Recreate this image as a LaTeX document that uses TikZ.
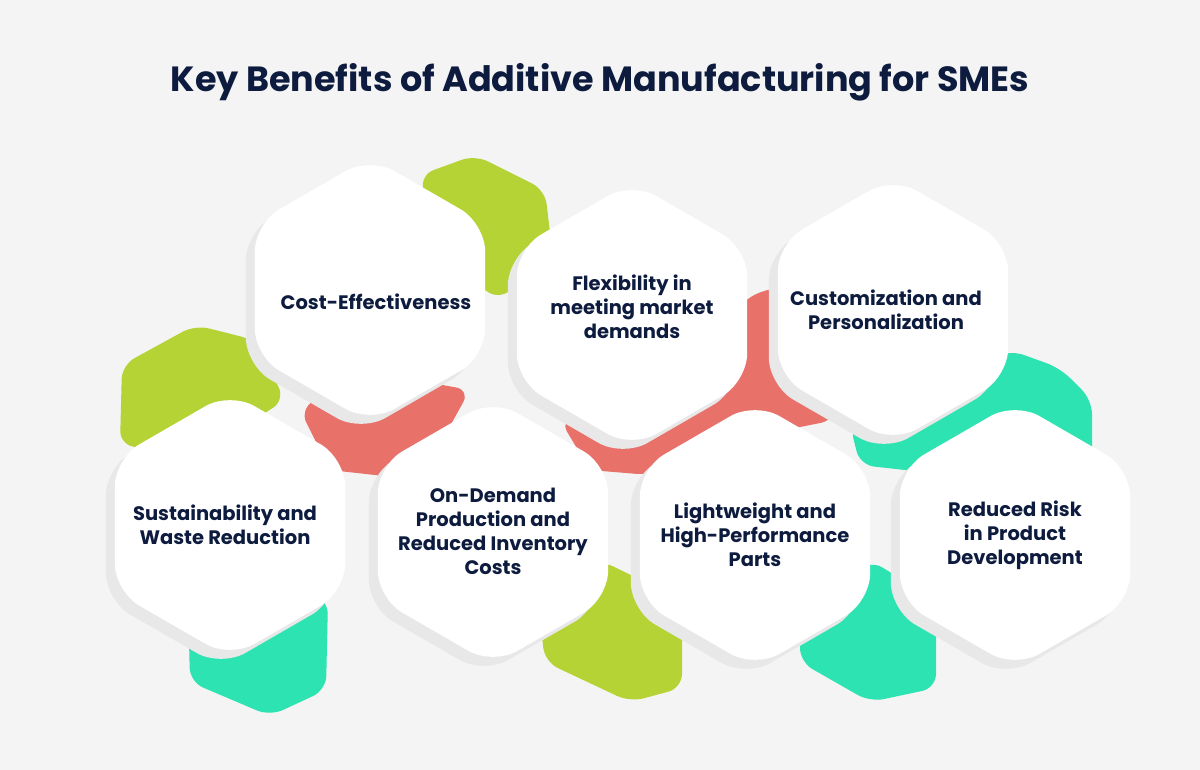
\documentclass[tikz,border=0pt]{standalone}
\usepackage{fontspec}
\setmainfont{Poppins}
\usetikzlibrary{shapes.geometric}
\definecolor{bg}{HTML}{F4F4F4}
\definecolor{navy}{HTML}{0D1B3E}
\definecolor{lime}{HTML}{B5D334}
\definecolor{coral}{HTML}{E8716A}
\definecolor{teal}{HTML}{2DE3B2}
\tikzset{
  hex/.style={regular polygon, regular polygon sides=6, shape border rotate=30, minimum size=266pt,
    rounded corners=28pt, fill=white, draw=none, inner sep=0pt},
  hexsh/.style={regular polygon, regular polygon sides=6, shape border rotate=30, minimum size=266pt,
    rounded corners=28pt, fill=black!9, draw=none, inner sep=0pt},
  lbl/.style={text=navy, font=\bfseries\fontsize{19.5}{24}\selectfont, align=center, inner sep=0pt},
  patch/.style={rounded corners=14pt, draw=none}
}
\begin{document}
\begin{tikzpicture}[x=1pt,y=-1pt]
\fill[bg] (0,0) rectangle (1200,770);
\useasboundingbox (0,0) rectangle (1200,770);
\node[text=navy, font=\bfseries\fontsize{35}{40}\selectfont] (title) at (600,82) {Key Benefits of Additive Manufacturing for SMEs};
% coloured bands
\fill[lime,patch] (420,175)--(475,155)--(545,190)--(552,250)--(500,300)--(440,260)--cycle;
\fill[lime,patch] (120,445)--(122,365)--(195,325)--(255,340)--(285,400)--(200,455)--cycle;
\fill[coral,patch] (300,410)--(360,370)--(470,390)--(420,480)--(330,470)--cycle;
\fill[coral,patch] (560,420)--(640,380)--(760,290)--(830,285)--(835,420)--(760,435)--(650,475)--(590,470)--cycle;
\fill[teal,patch] (850,425)--(1010,350)--(1060,368)--(1092,400)--(1092,465)--(950,475)--(860,465)--cycle;
\fill[teal,patch] (188,600)--(260,570)--(328,600)--(326,690)--(270,716)--(190,682)--cycle;
\fill[lime,patch] (540,620)--(600,560)--(682,600)--(682,688)--(630,702)--(545,662)--cycle;
\fill[teal,patch] (800,620)--(870,560)--(936,600)--(936,688)--(870,702)--(800,662)--cycle;
% shadows
\foreach \x/\y in {370/290,632/315,893/310,230/525,493/532,755/535,1015/535}
  \node[hexsh] at (\x-9,\y+9) {};
% hexagons
\node[hex] (cost) at (370,290) {};
\node[hex] (flex) at (632,315) {};
\node[hex] (cust) at (893,310) {};
\node[hex] (sust) at (230,525) {};
\node[hex] (ond) at (493,532) {};
\node[hex] (light) at (755,535) {};
\node[hex] (risk) at (1015,535) {};
% labels
\node[lbl] (tcost) at (376,302) {Cost-Effectiveness};
\node[lbl] (tflex) at (632,307) {Flexibility in\\meeting market\\demands};
\node[lbl] (tcust) at (886,310) {Customization and\\Personalization};
\node[lbl] (tsust) at (225,525) {Sustainability and\\Waste Reduction};
\node[lbl] (tond) at (493,531) {On-Demand\\Production and\\Reduced Inventory\\Costs};
\node[lbl] (tlight) at (755,535) {Lightweight and\\High-Performance\\Parts};
\node[lbl] (trisk) at (1015,535) {Reduced Risk\\in Product\\Development};
\end{tikzpicture}
\end{document}
